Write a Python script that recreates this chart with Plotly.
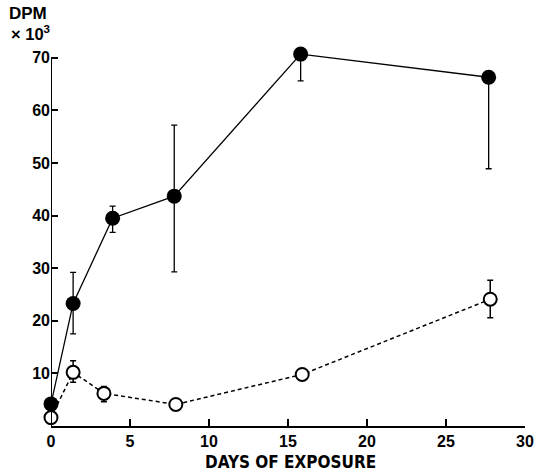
import plotly.graph_objects as go

# Filled circles (solid line)
days_filled = [0.0, 1.4, 3.9, 7.8, 15.8, 27.7]
dpm_filled = [4.2, 23.3, 39.5, 43.7, 70.7, 66.3]
err_filled_plus = [0.0, 5.9, 2.3, 13.5, 0.0, 0.0]
err_filled_minus = [0.0, 5.8, 2.7, 14.4, 5.1, 17.4]

# Open circles (dashed line)
days_open = [0.0, 1.4, 3.35, 7.9, 15.9, 27.8]
dpm_open = [1.6, 10.2, 6.2, 4.1, 9.8, 24.1]
err_open_plus = [0.0, 2.2, 1.3, 0.0, 0.0, 3.6]
err_open_minus = [0.0, 1.9, 1.6, 0.0, 0.0, 3.5]

x_ticks = [0, 5, 10, 15, 20, 25, 30]
y_ticks = [10, 20, 30, 40, 50, 60, 70]

FONT = "Liberation Sans, Arial, sans-serif"
TITLE_FONT = "DejaVu Sans Condensed, Liberation Sans, sans-serif"

fig = go.Figure()
fig.add_trace(go.Scatter(
    x=days_open, y=dpm_open, mode="lines+markers",
    line=dict(color="black", width=1.5, dash="4px,3px"),
    marker=dict(symbol="circle", size=13, color="white",
                line=dict(color="black", width=2)),
    error_y=dict(type="data", symmetric=False, array=err_open_plus,
                 arrayminus=err_open_minus, color="black", thickness=1.5, width=3),
    cliponaxis=False, showlegend=False))
fig.add_trace(go.Scatter(
    x=days_filled, y=dpm_filled, mode="lines+markers",
    line=dict(color="black", width=1.3),
    marker=dict(symbol="circle", size=15, color="black"),
    error_y=dict(type="data", symmetric=False, array=err_filled_plus,
                 arrayminus=err_filled_minus, color="black", thickness=1.3, width=3),
    cliponaxis=False, showlegend=False))

# y axis line only from 0 to 70 (range extends a bit higher so the top point shows)
fig.add_shape(type="line", xref="x", yref="y", x0=0, x1=0, y0=0, y1=70,
              line=dict(color="black", width=2), layer="above")

fig.update_layout(
    width=536, height=476,
    margin=dict(l=51, r=11, t=42.2, b=50, autoexpand=False),
    paper_bgcolor="white", plot_bgcolor="white",
    font=dict(family=FONT, color="black", size=16),
    xaxis=dict(range=[0, 30], tickvals=x_ticks, ticktext=[str(v) for v in x_ticks],
               showline=True, linecolor="black", linewidth=2, automargin=False,
               ticks="inside", ticklen=7, tickwidth=1.5, tickcolor="black",
               showgrid=False, zeroline=False,
               tickfont=dict(family=FONT, size=16, weight="bold")),
    yaxis=dict(range=[0, 73], tickvals=y_ticks, ticktext=[str(v) for v in y_ticks],
               showline=False, automargin=False,
               ticks="inside", ticklen=7, tickwidth=1.5, tickcolor="black",
               showgrid=False, zeroline=False,
               tickfont=dict(family=FONT, size=16, weight="bold")),
    annotations=[
        dict(text="DPM", xref="paper", yref="paper", x=-0.093, y=1.074,
             xanchor="left", yanchor="middle", showarrow=False,
             font=dict(family=FONT, size=17, weight="bold")),
        dict(text="× 10<sup>3</sup>", xref="paper", yref="paper", x=-0.089, y=1.024,
             xanchor="left", yanchor="middle", showarrow=False,
             font=dict(family=FONT, size=16.5, weight="bold")),
        dict(text="DAYS OF EXPOSURE", xref="paper", yref="paper", x=0.505, y=-0.095,
             xanchor="center", yanchor="middle", showarrow=False,
             font=dict(family=TITLE_FONT, size=17, weight="bold")),
    ],
)

fig.write_html(
    "out.html",
    config={"displayModeBar": False},
    post_script="document.body.style.margin='0px';document.body.style.overflow='hidden';",
)
